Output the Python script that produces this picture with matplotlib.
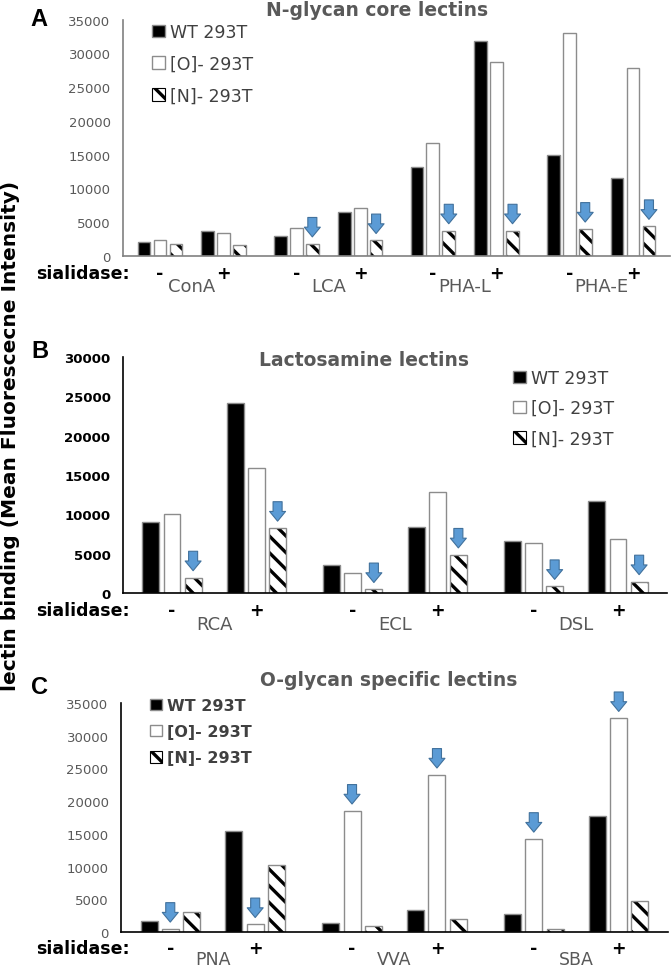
import numpy as np
import matplotlib.pyplot as plt
from matplotlib import transforms
from matplotlib.patches import Patch

plt.rcParams['font.family'] = 'DejaVu Sans'
plt.rcParams['hatch.linewidth'] = 2.4

# --- DATA ---
series_names = ['WT 293T', '[O]- 293T', '[N]- 293T']
sialidase = ['-', '+']

# panel A: N-glycan core lectins (order: group -, group +)
a_groups = ['ConA', 'LCA', 'PHA-L', 'PHA-E']
a_wt = [2100, 3700, 3000, 6450, 13200, 31800, 14950, 11500]
a_o = [2350, 3350, 4150, 7050, 16800, 28800, 33000, 27850]
a_n = [1850, 1600, 1800, 2300, 3750, 3750, 4000, 4400]
a_arrow = [0, 0, 1, 1, 1, 1, 1, 1]   # arrows over [N] bars

# panel B: Lactosamine lectins
b_groups = ['RCA', 'ECL', 'DSL']
b_wt = [9000, 24100, 3600, 8450, 6550, 11650]
b_o = [10100, 15850, 2600, 12850, 6300, 6900]
b_n = [1950, 8250, 450, 4850, 850, 1450]
b_arrow = [1, 1, 1, 1, 1, 1]          # arrows over [N] bars

# panel C: O-glycan specific lectins
c_groups = ['PNA', 'VVA', 'SBA']
c_wt = [1750, 15450, 1350, 3400, 2700, 17800]
c_o = [450, 1150, 18500, 24000, 14200, 32650]
c_n = [3050, 10250, 900, 1950, 450, 4700]
c_arrow = [1, 1, 1, 1, 1, 1]          # arrows over [O] bars

W, H = 671, 970
fig = plt.figure(figsize=(W / 100, H / 100), dpi=100)

EDGE = '#8c8c8c'
GRAY = '#595959'
HATCH = '\\\\'


def box(left, right, top, bottom):
    return [left / W, 1 - bottom / H, (right - left) / W, (bottom - top) / H]


def draw_panel(rect, groups, wt, o, n, ymax, arrow_mask, arrow_on_o,
               axis_color, tick_color, tick_weight,
               row_base, cat_base, cat_size, leg_xy, leg_size, leg_weight, leg_space):
    ax = fig.add_axes(rect)
    idx = np.arange(len(groups) * 2)
    x = idx + (idx // 2) * 0.14
    off, bw = 0.25, 0.2

    ax.bar(x - off, wt, bw, color='black', edgecolor=EDGE, linewidth=1)
    ax.bar(x, o, bw, color='white', edgecolor=EDGE, linewidth=1)
    ax.bar(x + off, n, bw, color='white', edgecolor='black', linewidth=0, hatch=HATCH)
    ax.bar(x + off, n, bw, fill=False, edgecolor=EDGE, linewidth=1)

    # blue "decrease" arrows
    ax_x = x if arrow_on_o else x + off
    ax_v = o if arrow_on_o else n
    for xi, v, flag in zip(ax_x, ax_v, arrow_mask):
        if flag:
            ax.annotate('', xy=(xi, v), xytext=(0, 19), textcoords='offset points',
                        annotation_clip=False,
                        arrowprops=dict(arrowstyle='simple,head_length=7,head_width=11.5,tail_width=6.5',
                                        mutation_scale=1, fc='#5B9BD5', ec='#41719C', lw=0.8,
                                        shrinkA=0, shrinkB=5))

    ax.set_xlim(x[0] - 0.58, x[-1] + 0.58)
    ax.set_ylim(0, ymax)
    ax.set_yticks(np.arange(0, ymax + 1, 5000))
    ax.set_xticks([])
    ax.tick_params(axis='y', length=0, pad=9, labelsize=9.5, labelcolor=tick_color)
    for lbl in ax.get_yticklabels():
        lbl.set_fontweight(tick_weight)
    for s in ['top', 'right']:
        ax.spines[s].set_visible(False)
    for s in ['left', 'bottom']:
        ax.spines[s].set_color(axis_color)
        ax.spines[s].set_linewidth(1.2)

    # sialidase -/+ row and lectin names
    trans = transforms.blended_transform_factory(ax.transData, fig.transFigure)
    for xi, s in zip(x, sialidase * len(groups)):
        ax.text(xi, 1 - row_base / H, s, transform=trans, ha='center', va='baseline',
                fontsize=12.5, fontweight='bold')
    for g, name in enumerate(groups):
        ax.text((x[2 * g] + x[2 * g + 1]) / 2, 1 - cat_base / H, name, transform=trans,
                ha='center', va='baseline', fontsize=cat_size, color=GRAY)
    fig.text(36 / W, 1 - row_base / H, 'sialidase:', ha='left', va='baseline',
             fontsize=12.5, fontweight='bold')

    handles = [Patch(facecolor='black', edgecolor=EDGE, linewidth=1),
               Patch(facecolor='white', edgecolor=EDGE, linewidth=1),
               Patch(facecolor='white', edgecolor='black', linewidth=0.8, hatch=HATCH)]
    leg = ax.legend(handles, series_names, loc='upper left',
                    bbox_to_anchor=(leg_xy[0] / W, 1 - leg_xy[1] / H),
                    bbox_transform=fig.transFigure, frameon=False,
                    prop={'size': leg_size, 'weight': leg_weight},
                    handlelength=0.75, handleheight=0.75, handletextpad=0.3,
                    labelspacing=leg_space, borderpad=0, borderaxespad=0)
    for t in leg.get_texts():
        t.set_color('#404040')
    return ax


draw_panel(box(123, 670, 20.7, 257), a_groups, a_wt, a_o, a_n, 35000, a_arrow, False,
           '#808080', GRAY, 'normal', 279, 292, 13, (152, 24), 12.5, 'normal', 0.8)
draw_panel(box(123, 667, 358, 594), b_groups, b_wt, b_o, b_n, 30000, b_arrow, False,
           'black', 'black', 'bold', 616, 630, 13, (513, 370), 12.5, 'normal', 0.7)
draw_panel(box(121, 668, 704, 933), c_groups, c_wt, c_o, c_n, 35000, c_arrow, True,
           'black', GRAY, 'normal', 954, 965, 12.5, (150, 699), 11.5, 'bold', 0.7)

# panel titles
fig.text(377 / W, 1 - 11 / H, 'N-glycan core lectins', ha='center', va='center',
         fontsize=13.5, fontweight='bold', color=GRAY)
fig.text(364 / W, 1 - 360 / H, 'Lactosamine lectins', ha='center', va='center',
         fontsize=13.5, fontweight='bold', color=GRAY)
fig.text(389 / W, 1 - 681 / H, 'O-glycan specific lectins', ha='center', va='center',
         fontsize=13.5, fontweight='bold', color=GRAY)

# panel letters
for letter, (lx, ly) in zip('ABC', [(38.5, 20), (39.5, 352), (39, 687)]):
    fig.text(lx / W, 1 - ly / H, letter, ha='center', va='center', fontsize=17,
             fontweight='bold', family='Liberation Sans')

fig.text(11 / W, 1 - 436 / H, 'lectin binding (Mean Fluorescecne Intensity)',
         rotation=90, ha='center', va='center', fontsize=14.5, fontweight='bold')

fig.savefig('out.png', dpi=100)
